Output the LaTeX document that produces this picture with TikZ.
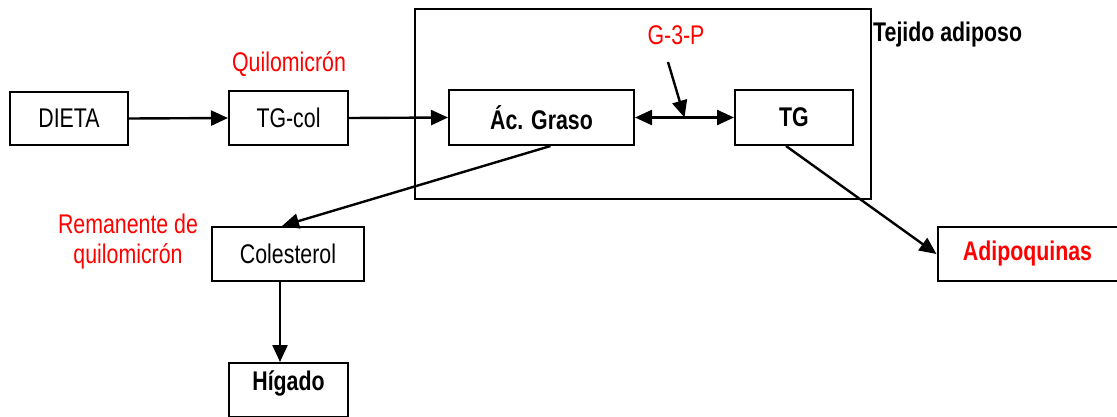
\documentclass[tikz,border=0pt]{standalone}
\usepackage{fontspec}
\setmainfont{Liberation Sans}[FakeStretch=0.79]
\usetikzlibrary{arrows.meta,calc}
\begin{document}
\begin{tikzpicture}[x=1pt,y=-1pt,
  box/.style={draw,line width=2pt,inner sep=0pt,font=\fontsize{27}{30}\selectfont},
  lbl/.style={inner sep=0pt,font=\fontsize{27}{30}\selectfont},
  conn/.style={line width=2.4pt,-{Triangle[length=17pt,width=15pt]}},
  dconn/.style={line width=2.4pt,{Triangle[length=17pt,width=15pt]}-{Triangle[length=17pt,width=15pt]}}]
\useasboundingbox (0,0) rectangle (1117,416);
\node[box,minimum width=456pt,minimum height=190pt] (tejido) at (643,104) {};
\node[box,minimum width=118pt,minimum height=53pt] (dieta) at (69,118.5) {DIETA};
\node[box,minimum width=119pt,minimum height=54pt] (tgcol) at (288.5,118) {TG-col};
\node[box,minimum width=185pt,minimum height=55pt,font=\fontsize{27}{30}\selectfont\bfseries] (acg) at (541.5,117.5) {Ác. Graso};
\node[box,minimum width=118pt,minimum height=55pt,font=\fontsize{27}{30}\selectfont\bfseries] (tg) at (794,117.5) {TG};
\node[box,minimum width=152pt,minimum height=54pt] (col) at (288,254) {Colesterol};
\node[box,minimum width=119pt,minimum height=54pt,text depth=19pt,font=\fontsize{27}{30}\selectfont\bfseries] (hig) at (288.5,390) {Hígado};
\node[box,minimum width=180pt,minimum height=54pt,font=\fontsize{27}{30}\selectfont\bfseries,text=red] (adi) at (1027.5,254) {Adipoquinas};
\node[lbl,text=red] (quilo) at (289,64) {Quilomicrón};
\node[lbl,text=red] (g3p) at (676,35) {G-3-P};
\node[lbl,anchor=west,font=\fontsize{27}{30}\selectfont\bfseries] (tejlbl) at (873,35) {Tejido adiposo};
\node[lbl,text=red,align=center] (rem) at (128,242) {Remanente de\\quilomicrón};
\coordinate (g3ps) at (668,62);
\draw[conn] (dieta.east) -- (tgcol.west);
\draw[conn] (tgcol.east) -- (acg.west);
\draw[dconn] (acg.east) -- (tg.west);
\draw[conn] (g3ps) -- ($(acg.east)!0.5!(tg.west)$);
\draw[conn] ([xshift=9pt]acg.south) -- ([xshift=-6pt]col.north);
\draw[conn] ([xshift=-8pt]tg.south) -- (adi.west);
\draw[conn] ([xshift=-8pt]col.south) -- ([xshift=-8.5pt]hig.north);
\end{tikzpicture}
\end{document}
